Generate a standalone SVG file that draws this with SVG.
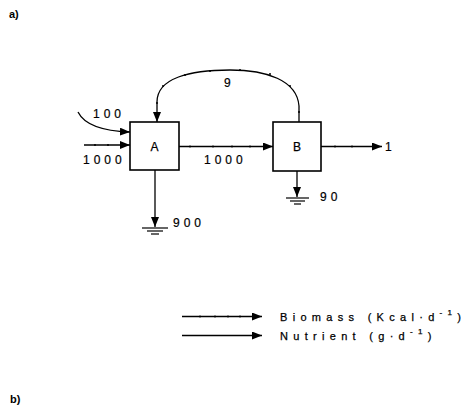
<svg xmlns="http://www.w3.org/2000/svg" width="468" height="411" viewBox="0 0 468 411">
<style>
.ln{fill:none;stroke:#000;stroke-width:1.3}
.box{fill:#fff;stroke:#000;stroke-width:1.6}
.num{font-family:"Liberation Sans",Arial,sans-serif;font-size:12px;letter-spacing:4px;fill:#000;stroke:#000;stroke-width:0.2}
.lab{font-family:"Liberation Sans",Arial,sans-serif;font-size:12px;fill:#000;stroke:#000;stroke-width:0.25}
.leg{font-family:"Liberation Sans",Arial,sans-serif;font-size:11px;letter-spacing:5.3px;fill:#000;stroke:#000;stroke-width:0.25}
.hd{font-family:"Liberation Sans",Arial,sans-serif;font-size:11px;font-weight:bold;fill:#000}
.gd{stroke:#000;stroke-width:1.2}
.dot{fill:#000}
</style>
<defs>
<marker id="ah" viewBox="0 0 10 8" refX="10" refY="4" markerWidth="10" markerHeight="8" markerUnits="userSpaceOnUse" orient="auto">
<path d="M0,0 L10,4 L0,8 Z" fill="#000"/>
</marker>
</defs>
<text class="hd" x="9" y="18">a)</text>
<text class="hd" x="10" y="403">b)</text>
<g id="connectors">
<path class="ln" d="M78,112 C84,124 100,131 130,132" marker-end="url(#ah)"/>
<line class="ln" x1="84" y1="145" x2="130" y2="145" marker-end="url(#ah)"/>
<line class="ln" x1="179" y1="146.5" x2="273" y2="146.5" marker-end="url(#ah)"/>
<line class="ln" x1="321" y1="146.5" x2="382" y2="146.5" marker-end="url(#ah)"/>
<path class="ln" d="M299,122 L299,106 C297,80 266,70 230,70 C190,70 157,78 157,102 L157,122" marker-end="url(#ah)"/>
<line class="ln" x1="155" y1="170" x2="155" y2="227" marker-end="url(#ah)"/>
<line class="ln" x1="297" y1="171" x2="297" y2="197" marker-end="url(#ah)"/>
<g class="dot">
<circle cx="95" cy="145" r="1"/><circle cx="108" cy="145" r="1"/>
<circle cx="190" cy="146.5" r="1"/><circle cx="213" cy="146.5" r="1"/><circle cx="232" cy="146.5" r="1"/><circle cx="250" cy="146.5" r="1"/>
<circle cx="335" cy="146.5" r="1"/><circle cx="352" cy="146.5" r="1"/>
<circle cx="299" cy="112" r="1"/><circle cx="290" cy="86" r="1"/><circle cx="270" cy="74" r="1"/><circle cx="240" cy="70" r="1"/><circle cx="210" cy="71" r="1"/><circle cx="185" cy="75" r="1"/><circle cx="163" cy="86" r="1"/><circle cx="157" cy="103" r="1"/>
</g>
<g id="ground-A">
<line class="gd" x1="142" y1="228" x2="168" y2="228"/>
<line class="gd" x1="147" y1="231" x2="163" y2="231"/>
<line class="gd" x1="151" y1="234" x2="159" y2="234"/>
</g>
<g id="ground-B">
<line class="gd" x1="286" y1="198" x2="309" y2="198"/>
<line class="gd" x1="290" y1="201" x2="305" y2="201"/>
<line class="gd" x1="294" y1="204" x2="301" y2="204"/>
</g>
</g>
<g id="node-A">
<rect class="box" x="130" y="122" width="49" height="48"/>
<text class="lab" x="154.5" y="150.5" text-anchor="middle">A</text>
</g>
<g id="node-B">
<rect class="box" x="273" y="122" width="48" height="49"/>
<text class="lab" x="297" y="150.5" text-anchor="middle">B</text>
</g>
<g id="labels">
<text class="num" x="93" y="118">100</text>
<text class="num" x="83" y="164">1000</text>
<text class="num" x="204" y="164">1000</text>
<text class="num" x="385" y="151">1</text>
<text class="num" x="224" y="87">9</text>
<text class="num" x="173" y="227">900</text>
<text class="num" x="320" y="201">90</text>
</g>
<g id="legend">
<line class="ln" x1="182" y1="316.5" x2="262" y2="316.5" marker-end="url(#ah)"/>
<g class="dot"><circle cx="200" cy="316.5" r="1"/><circle cx="215" cy="316.5" r="1"/><circle cx="228" cy="316.5" r="1"/><circle cx="240" cy="316.5" r="1"/></g>
<line class="ln" x1="182" y1="335.5" x2="262" y2="335.5" marker-end="url(#ah)"/>
<text class="leg" x="280" y="320.5">Biomass (Kcal·d<tspan font-size="8" dy="-6">-1</tspan><tspan dy="6">)</tspan></text>
<text class="leg" x="280" y="339.5">Nutrient (g·d<tspan font-size="8" dy="-6">-1</tspan><tspan dy="6">)</tspan></text>
</g>
</svg>
